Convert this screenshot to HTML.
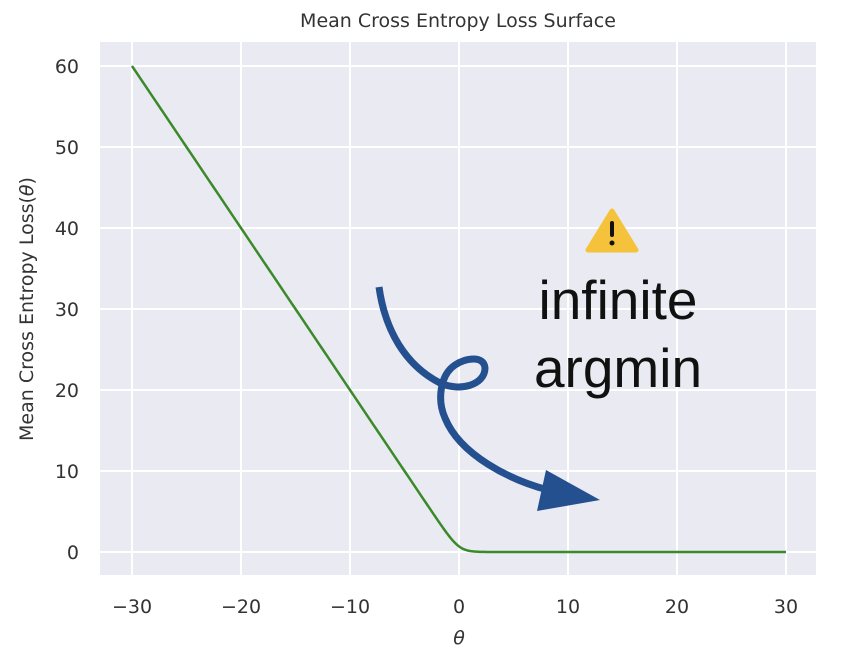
<!DOCTYPE html>
<html><head><meta charset="utf-8"><style>
html,body{margin:0;padding:0;background:#fff;}
svg{display:block;font-family:"DejaVu Sans","Liberation Sans",sans-serif;}
</style></head><body>
<svg id="s" width="848" height="668" viewBox="0 0 848 668" xmlns="http://www.w3.org/2000/svg">
<rect x="0" y="0" width="848" height="668" fill="#fff"/>
<rect x="100" y="42" width="716" height="533" fill="#eaeaf2"/>
<g stroke="#fff" stroke-width="2">
<line x1="132" y1="42" x2="132" y2="575"/>
<line x1="241" y1="42" x2="241" y2="575"/>
<line x1="350" y1="42" x2="350" y2="575"/>
<line x1="459" y1="42" x2="459" y2="575"/>
<line x1="568" y1="42" x2="568" y2="575"/>
<line x1="677" y1="42" x2="677" y2="575"/>
<line x1="786" y1="42" x2="786" y2="575"/>
<line x1="100" y1="66" x2="816" y2="66"/>
<line x1="100" y1="147" x2="816" y2="147"/>
<line x1="100" y1="228" x2="816" y2="228"/>
<line x1="100" y1="309" x2="816" y2="309"/>
<line x1="100" y1="390" x2="816" y2="390"/>
<line x1="100" y1="471" x2="816" y2="471"/>
<line x1="100" y1="552" x2="816" y2="552"/>
</g>
<path id="curve" fill="none" stroke="#3a8a2a" stroke-width="2.5"/>
<g fill="#333" font-size="19" text-anchor="middle">
<text x="132" y="613">−30</text>
<text x="241" y="613">−20</text>
<text x="350" y="613">−10</text>
<text x="459" y="613">0</text>
<text x="568" y="613">10</text>
<text x="677" y="613">20</text>
<text x="786" y="613">30</text>
<text x="459" y="644" font-style="italic">θ</text>
</g>
<g fill="#333" font-size="19" text-anchor="end">
<text x="79" y="73">60</text>
<text x="79" y="154">50</text>
<text x="79" y="235">40</text>
<text x="79" y="316">30</text>
<text x="79" y="397">20</text>
<text x="79" y="478">10</text>
<text x="79" y="559">0</text>
</g>
<text x="458" y="27" font-size="19" fill="#333" text-anchor="middle">Mean Cross Entropy Loss Surface</text>
<text transform="translate(33,309) rotate(-90)" font-size="19" fill="#333" text-anchor="middle">Mean Cross Entropy Loss(<tspan font-style="italic">θ</tspan>)</text>
<path d="M612,211 L636,250 L588,250 Z" fill="#f5c33b" stroke="#f5c33b" stroke-width="5" stroke-linejoin="round"/>
<rect x="610" y="221" width="4" height="16" rx="2" fill="#111"/>
<circle cx="612" cy="243" r="2.5" fill="#111"/>
<g font-family="'Liberation Sans',sans-serif" font-size="55" fill="#111" text-anchor="middle">
<text x="618" y="319">infinite</text>
<text x="618" y="387">argmin</text>
</g>
<path d="M379,287 C385,330 405,365 440,383 C460,392 485,385 485,368 C484,355 465,358 455,365 C440,375 437,400 445,418 C460,455 510,480 548,490" fill="none" stroke="#24508f" stroke-width="7" stroke-linecap="butt"/>
<path d="M546,470 L600,500 L537,511 Z" fill="#24508f"/>
</svg>
<script>
var d="";
for(var i=0;i<=600;i++){var t=-30+i*0.1;var y=Math.log(1+Math.exp(-2*t));
var px=459+t*10.9, py=552-y*8.1;d+=(i?"L":"M")+px.toFixed(2)+","+py.toFixed(2);}
document.getElementById("curve").setAttribute("d",d);
</script>
</body></html>
